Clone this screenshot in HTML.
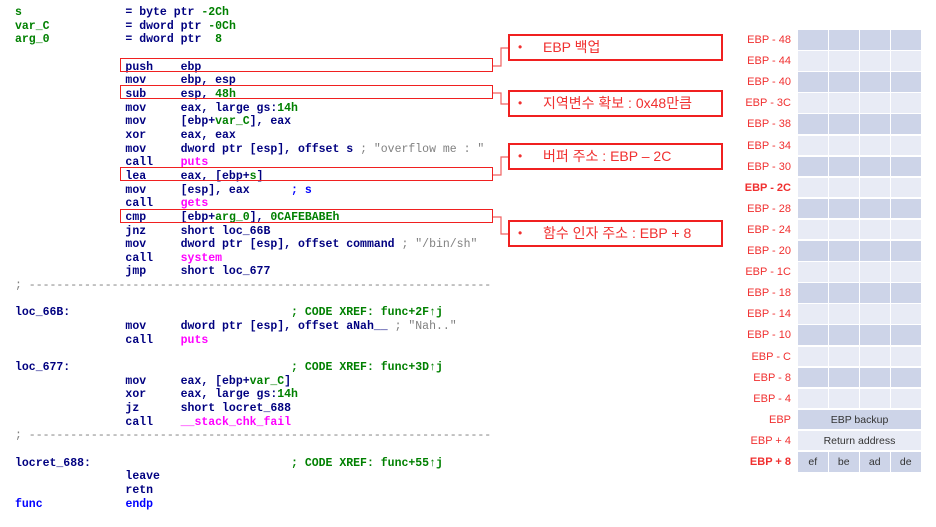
<!DOCTYPE html>
<html><head><meta charset="utf-8"><style>
body{margin:0;width:936px;height:527px;background:#fff;position:relative;overflow:hidden}
pre{position:absolute;left:15px;top:6px;margin:0;font-family:"Liberation Mono",monospace;font-weight:bold;font-size:11.5px;line-height:13.65px;color:#000080}
.g{color:#008000}.m{color:#ff00ff}.s{color:#808080;font-weight:normal}.b{color:#0000ff}.d{color:#808080;font-weight:normal}
.hb{position:absolute;left:120px;width:371px;height:12px;border:1.5px solid #f02020}
.cb{position:absolute;left:508px;width:211px;height:23px;border:2px solid #f02020;font-family:"Liberation Sans","Noto Sans CJK KR",sans-serif;font-size:14px;color:#f03030;line-height:23px}
.cb span{position:absolute;left:8px;font-size:12px}
.cb i{font-style:normal;position:absolute;left:33px}
svg{position:absolute;left:0;top:0}
.lbl{position:absolute;right:145px;font-family:"Liberation Sans",sans-serif;font-size:11px;color:#f03030;text-align:right}
.cell{position:absolute;font-family:"Liberation Sans",sans-serif;font-size:10.5px;color:#333;text-align:center}
</style></head><body>
<pre><span class="g">s</span>               = byte ptr <span class="g">-2Ch</span>
<span class="g">var_C</span>           = dword ptr <span class="g">-0Ch</span>
<span class="g">arg_0</span>           = dword ptr  <span class="g">8</span>

                push    ebp
                mov     ebp, esp
                sub     esp, <span class="g">48h</span>
                mov     eax, large gs:<span class="g">14h</span>
                mov     [ebp+<span class="g">var_C</span>], eax
                xor     eax, eax
                mov     dword ptr [esp], offset s <span class="s">; "overflow me : "</span>
                call    <span class="m">puts</span>
                lea     eax, [ebp+<span class="g">s</span>]
                mov     [esp], eax      <span class="b">; s</span>
                call    <span class="m">gets</span>
                cmp     [ebp+<span class="g">arg_0</span>], <span class="g">0CAFEBABEh</span>
                jnz     short loc_66B
                mov     dword ptr [esp], offset command <span class="s">; "/bin/sh"</span>
                call    <span class="m">system</span>
                jmp     short loc_677
<span class="d">; -------------------------------------------------------------------</span>

loc_66B:                                <span class="g">; CODE XREF: func+2F↑j</span>
                mov     dword ptr [esp], offset aNah__ <span class="s">; "Nah.."</span>
                call    <span class="m">puts</span>

loc_677:                                <span class="g">; CODE XREF: func+3D↑j</span>
                mov     eax, [ebp+<span class="g">var_C</span>]
                xor     eax, large gs:<span class="g">14h</span>
                jz      short locret_688
                call    <span class="m">__stack_chk_fail</span>
<span class="d">; -------------------------------------------------------------------</span>

locret_688:                             <span class="g">; CODE XREF: func+55↑j</span>
                leave
                retn
<span class="b">func</span>            <span class="b">endp</span></pre>

<div class="hb" style="top:58px"></div>
<div class="hb" style="top:85px"></div>
<div class="hb" style="top:167px"></div>
<div class="hb" style="top:209px"></div>

<svg width="936" height="527"><g stroke="#f06060" stroke-width="1.2" fill="none">
<polyline points="493,66 501,66 501,48 508,48"/>
<polyline points="493,93 501,93 501,104 508,104"/>
<polyline points="493,175 501,175 501,157 508,157"/>
<polyline points="493,217 501,217 501,234 508,234"/>
</g></svg>

<div class="cb" style="top:34px"><span>•</span><i>EBP 백업</i></div>
<div class="cb" style="top:90px"><span>•</span><i>지역변수 확보 : 0x48만큼</i></div>
<div class="cb" style="top:143px"><span>•</span><i>버퍼 주소 : EBP – 2C</i></div>
<div class="cb" style="top:220px"><span>•</span><i>함수 인자 주소 : EBP + 8</i></div>

<div id="tbl"></div>
<script>
var labels=["EBP - 48","EBP - 44","EBP - 40","EBP - 3C","EBP - 38","EBP - 34","EBP - 30","EBP - 2C","EBP - 28","EBP - 24","EBP - 20","EBP - 1C","EBP - 18","EBP - 14","EBP - 10","EBP - C","EBP - 8","EBP - 4","EBP","EBP + 4","EBP + 8"];
var h="",rh=21.1,x=[798,829,860,891,922];
for(var i=0;i<21;i++){var y=30+i*rh,c=i%2==0?"#cdd4e8":"#e8ebf5";
var bold=(i==7||i==20)?"font-weight:bold;":"";
h+='<div class="lbl" style="top:'+(y+4)+'px;'+bold+'">'+labels[i]+'</div>';
if(i==18||i==19){h+='<div class="cell" style="left:798px;top:'+y+'px;width:123px;height:'+(rh-1.5)+'px;background:'+c+';line-height:'+rh+'px">'+(i==18?"EBP backup":"Return address")+'</div>';}
else{var t=i==20?["ef","be","ad","de"]:["","","",""];
for(var j=0;j<4;j++)h+='<div class="cell" style="left:'+x[j]+'px;top:'+y+'px;width:'+(x[j+1]-x[j]-1.5)+'px;height:'+(rh-1.5)+'px;background:'+c+';line-height:'+rh+'px">'+t[j]+'</div>';}}
document.getElementById("tbl").innerHTML=h;
</script>
</body></html>
